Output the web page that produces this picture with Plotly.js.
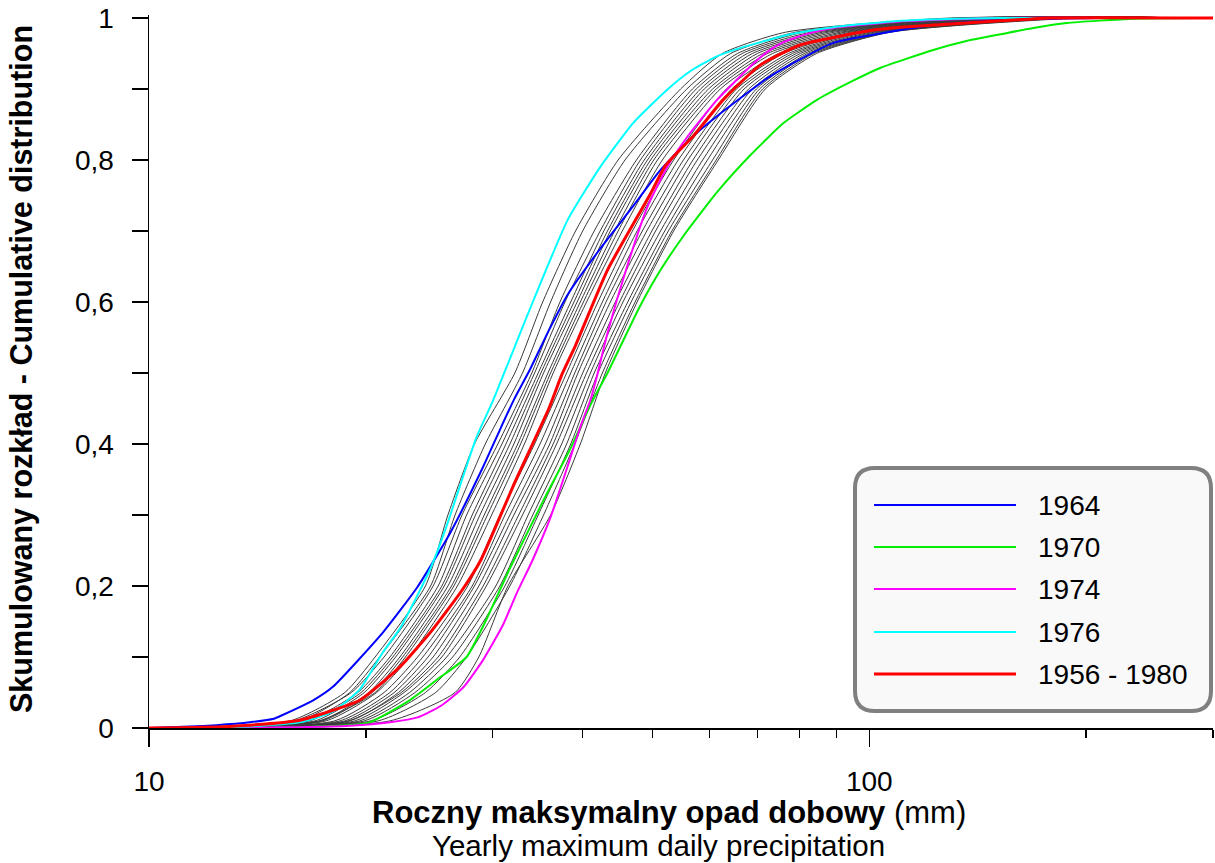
<!DOCTYPE html>
<html><head><meta charset="utf-8">
<script src="https://cdn.plot.ly/plotly-3.0.1.min.js"></script>
<style>html,body{margin:0;padding:0;background:#fff}#chart{width:1215px;height:863px}</style>
</head><body><div id="chart"></div>
<script>
// ---- data (x: precipitation in mm, F: cumulative distribution) ----
const grayF = [0, 0.01, 0.05, 0.1, 0.2, 0.3, 0.4, 0.5, 0.6, 0.7, 0.8, 0.9, 0.95, 0.98, 1, 1];
const gray01 = [10, 15.7, 18.7, 20.6, 24.2, 26.0, 28.3, 32.2, 35.2, 39.1, 44.8, 54.7, 62.5, 76.5, 129.6, 300];
const gray02 = [10, 16.2, 19.0, 20.9, 24.6, 26.6, 29.3, 33.0, 36.1, 40.0, 45.8, 55.8, 64.2, 79.0, 133.8, 300];
const gray03 = [10, 15.9, 19.1, 21.2, 24.8, 27.2, 30.5, 34.0, 37.2, 41.5, 47.5, 56.8, 65.6, 81.0, 136.0, 300];
const gray04 = [10, 16.5, 19.5, 21.6, 25.2, 27.6, 30.9, 34.3, 37.8, 42.3, 48.1, 57.5, 66.6, 82.9, 138.2, 300];
const gray05 = [10, 16.7, 19.7, 21.8, 25.5, 28.1, 31.3, 34.7, 38.5, 42.8, 48.7, 58.3, 67.7, 84.5, 140.4, 300];
const gray06 = [10, 17.0, 19.9, 22.0, 25.7, 28.4, 31.7, 35.0, 38.9, 43.3, 49.2, 59.0, 68.8, 86.1, 142.6, 300];
const gray07 = [10, 17.3, 20.2, 22.3, 26.0, 28.8, 32.1, 35.3, 39.3, 43.7, 49.7, 59.8, 69.9, 87.7, 144.9, 300];
const gray08 = [10, 17.4, 20.4, 22.5, 26.3, 29.2, 32.5, 35.8, 39.7, 44.3, 50.2, 60.6, 71.1, 89.4, 147.2, 300];
const gray09 = [10, 17.2, 20.6, 22.7, 26.5, 29.5, 32.8, 36.1, 40.1, 44.8, 50.8, 61.3, 72.2, 91.2, 149.6, 300];
const gray10 = [10, 17.6, 20.7, 23.0, 26.8, 29.9, 33.2, 36.4, 40.5, 45.4, 51.6, 62.1, 73.4, 92.7, 152.0, 300];
const gray11 = [10, 18.1, 21.2, 23.6, 27.7, 30.7, 34.3, 38.0, 42.0, 46.9, 53.5, 63.3, 74.8, 94.2, 154.4, 300];
const gray12 = [10, 18.4, 21.6, 24.0, 28.1, 31.2, 34.9, 38.5, 42.6, 47.6, 54.3, 64.4, 76.0, 95.7, 156.9, 300];
const gray13 = [10, 18.7, 21.9, 24.4, 28.3, 31.7, 35.5, 39.0, 43.1, 48.4, 55.2, 65.4, 77.2, 97.2, 159.4, 300];
const gray14 = [10, 19.0, 22.2, 24.8, 28.7, 32.1, 36.0, 39.4, 43.7, 49.1, 56.0, 66.2, 78.2, 98.8, 162.0, 300];
const gray15 = [10, 18.9, 22.4, 25.2, 29.1, 32.6, 36.4, 40.0, 44.4, 49.9, 56.9, 67.0, 79.2, 100.4, 167.3, 300];
const gray16 = [10, 19.3, 22.6, 25.5, 29.4, 33.0, 36.8, 40.5, 45.0, 50.5, 57.7, 68.0, 80.2, 101.7, 172.7, 300];
const gray17 = [10, 19.6, 23.0, 25.9, 30.3, 33.6, 37.4, 41.0, 45.5, 51.3, 58.7, 68.8, 81.2, 103.0, 178.4, 300];
const gray18 = [10, 19.9, 23.4, 26.4, 30.7, 34.1, 38.0, 41.5, 46.2, 52.0, 59.6, 69.7, 82.1, 104.4, 181.3, 300];
const gray19 = [10, 20.3, 24.2, 27.0, 31.2, 34.7, 38.5, 42.0, 46.7, 52.6, 60.6, 70.4, 82.9, 105.4, 184.2, 300];
const gray20 = [10, 20.8, 25.0, 27.6, 31.7, 35.3, 39.0, 42.6, 47.3, 53.2, 61.3, 71.1, 83.7, 106.4, 190.2, 300];
const gray21 = [10, 21.6, 26.6, 28.7, 31.5, 36.1, 39.7, 43.0, 47.6, 53.5, 61.7, 71.7, 84.5, 107.0, 196.4, 300];
const grayCurves = [gray01, gray02, gray03, gray04, gray05, gray06, gray07, gray08, gray09, gray10, gray11,
  gray12, gray13, gray14, gray15, gray16, gray17, gray18, gray19, gray20, gray21];

const blueX = [10, 11.4, 12.4, 13.8, 14.9, 15.3, 16.9, 18.0, 21.1, 23.6, 26.2, 29.1, 30.7, 32.2, 33.8, 35.9, 38.1, 42.3, 47.0, 51.2, 56.4, 61.5, 72.1, 77.6, 89.1, 110.4, 122.7, 152, 209.4, 300];
const blueF = [0, 0.002, 0.004, 0.008, 0.013, 0.018, 0.039, 0.058, 0.134, 0.199, 0.275, 0.368, 0.42, 0.465, 0.505, 0.56, 0.61, 0.675, 0.735, 0.785, 0.83, 0.862, 0.915, 0.934, 0.965, 0.983, 0.99, 0.997, 1, 1];
const greenX = [10, 16.2, 20.1, 23.0, 25.1, 27.6, 29.5, 31.7, 35.3, 38.4, 41.0, 43.3, 45.1, 48.1, 51.3, 55.2, 61.5, 68.4, 76.0, 84.7, 94.2, 103.7, 122.7, 136.8, 152, 169, 188, 232.6, 288.2, 300];
const greenF = [0, 0.001, 0.007, 0.039, 0.068, 0.1, 0.156, 0.225, 0.321, 0.392, 0.455, 0.5, 0.537, 0.595, 0.645, 0.693, 0.755, 0.807, 0.852, 0.885, 0.91, 0.93, 0.955, 0.968, 0.977, 0.986, 0.993, 0.999, 1, 1];
const magentaX = [10, 16.2, 19.0, 21.6, 23.6, 25.4, 27.3, 29.1, 31.0, 32.4, 34.1, 36.1, 38.1, 39.7, 41.0, 41.9, 43.3, 46.1, 49.2, 52.6, 56.4, 61.5, 68.4, 72.1, 76.0, 82.9, 89.1, 110.4, 152, 300];
const magentaF = [0, 0.001, 0.003, 0.008, 0.015, 0.031, 0.057, 0.096, 0.145, 0.19, 0.237, 0.297, 0.368, 0.424, 0.462, 0.497, 0.556, 0.65, 0.734, 0.793, 0.838, 0.885, 0.932, 0.952, 0.966, 0.979, 0.986, 0.995, 1, 1];
const cyanX = [10, 13.0, 16.2, 18.0, 19.6, 21.1, 22.3, 23.4, 24.6, 25.8, 27.0, 28.5, 30.0, 31.7, 34.1, 38.1, 42.3, 47.0, 52.4, 56.4, 61.1, 67.3, 77.7, 89.1, 110.4, 152, 300];
const cyanF = [0, 0.001, 0.008, 0.023, 0.054, 0.106, 0.14, 0.18, 0.225, 0.28, 0.34, 0.41, 0.46, 0.52, 0.6, 0.715, 0.79, 0.852, 0.899, 0.925, 0.945, 0.96, 0.977, 0.987, 0.996, 1, 1];
const redX = [10, 11.8, 13.8, 16.2, 19.6, 22.3, 24.6, 27.2, 28.9, 32.2, 35.9, 37.4, 39.1, 43.3, 49.6, 52.2, 57.1, 62.7, 70.6, 80.2, 101.3, 110.4, 152, 178.4, 300];
const redF = [0, 0.001, 0.004, 0.011, 0.039, 0.086, 0.135, 0.194, 0.237, 0.346, 0.45, 0.497, 0.539, 0.645, 0.751, 0.793, 0.835, 0.885, 0.934, 0.962, 0.983, 0.987, 0.996, 1, 1];

const seriesNames = ['1964', '1970', '1974', '1976', '1956 - 1980'];
const seriesX = [blueX, greenX, magentaX, cyanX, redX];
const seriesF = [blueF, greenF, magentaF, cyanF, redF];

const yTickVals = [0, 0.1, 0.2, 0.3, 0.4, 0.5, 0.6, 0.7, 0.8, 0.9, 1];
const yTickText = ['0', '', '0,2', '', '0,4', '', '0,6', '', '0,8', '', '1'];
const xTickVals = [10, 100];
const xTickText = ['10', '100'];
const xMinorVals = [20, 30, 40, 50, 60, 70, 80, 90, 200, 300];

// ---- styles ----
const seriesColors = ['#0000ff', '#00ee00', '#ff00ff', '#00ffff', '#ff0000'];
const seriesWidths = [2, 2, 2, 2, 3];
const FONT = 'Arial, "Liberation Sans", sans-serif';

const traces = [];
grayCurves.forEach(function (xs, i) {
  traces.push({x: xs, y: grayF, type: 'scatter', mode: 'lines', name: 'gray' + (i + 1),
    line: {color: '#3a3a3a', width: 1, shape: 'spline', smoothing: 0.6}, hoverinfo: 'skip'});
});
[0, 1, 2, 3, 4].forEach(function (k) {
  traces.push({x: seriesX[k], y: seriesF[k], type: 'scatter', mode: 'lines', name: seriesNames[k],
    line: {color: seriesColors[k], width: seriesWidths[k], shape: 'spline', smoothing: 0.5}});
});

// plot area geometry: left 149, width 1064, top 15, height 716
const W = 1064, H = 716, L = 149, B = 731;
function px(xp) { return (xp - L) / W; }
function py(yp) { return (B - yp) / H; }

// rounded legend box
const bl = px(855), br = px(1211), bt = py(468), bb = py(711);
const rx = 20 / W, ry = 20 / H;
const boxPath = 'M' + (bl + rx) + ',' + bt + ' L' + (br - rx) + ',' + bt +
  ' Q' + br + ',' + bt + ' ' + br + ',' + (bt - ry) + ' L' + br + ',' + (bb + ry) +
  ' Q' + br + ',' + bb + ' ' + (br - rx) + ',' + bb + ' L' + (bl + rx) + ',' + bb +
  ' Q' + bl + ',' + bb + ' ' + bl + ',' + (bb + ry) + ' L' + bl + ',' + (bt - ry) +
  ' Q' + bl + ',' + bt + ' ' + (bl + rx) + ',' + bt + ' Z';

const shapes = [{type: 'path', xref: 'paper', yref: 'paper', path: boxPath,
  fillcolor: '#f9f9f9', line: {color: '#808080', width: 4}, layer: 'above'}];
const annotations = [];
const rowY = [505, 547, 589, 632, 674];
seriesNames.forEach(function (nm, k) {
  shapes.push({type: 'line', xref: 'paper', yref: 'paper', x0: px(874), x1: px(1016), y0: py(rowY[k]), y1: py(rowY[k]),
    line: {color: seriesColors[k], width: seriesWidths[k]}, layer: 'above'});
  annotations.push({xref: 'paper', yref: 'paper', x: px(1036), y: py(rowY[k]), xanchor: 'left', yanchor: 'middle',
    text: nm, showarrow: false, font: {family: FONT, size: 28, color: '#000'}});
});
annotations.push({xref: 'paper', yref: 'paper', x: px(669), y: py(813), xanchor: 'center', yanchor: 'middle',
  text: '<b>Roczny maksymalny opad dobowy</b> (mm)', showarrow: false, font: {family: FONT, size: 31, color: '#000'}});
annotations.push({xref: 'paper', yref: 'paper', x: px(658), y: py(845), xanchor: 'center', yanchor: 'middle',
  text: 'Yearly maximum daily precipitation', showarrow: false, font: {family: FONT, size: 29.5, color: '#000'}});
annotations.push({xref: 'paper', yref: 'paper', x: px(22), y: py(369), xanchor: 'center', yanchor: 'middle', textangle: -90,
  text: '<b>Skumulowany rozkład - Cumulative distribution</b>', showarrow: false, font: {family: FONT, size: 30.5, color: '#000'}});

const yr0 = -0.004225, yr1 = 1.004225;
const layout = {
  width: 1215, height: 863,
  margin: {l: 149, r: 2, t: 15, b: 132, pad: 0},
  paper_bgcolor: '#ffffff', plot_bgcolor: 'rgba(0,0,0,0)',
  showlegend: false,
  font: {family: FONT, color: '#000', size: 28},
  xaxis: {type: 'log', range: [1, Math.log10(300)], showgrid: false, zeroline: false,
    showline: true, linecolor: '#000', linewidth: 1.5, mirror: false,
    ticks: 'outside', ticklen: 17, tickwidth: 1.5, tickcolor: '#000',
    tickmode: 'array', tickvals: xTickVals, ticktext: xTickText, tickfont: {family: FONT, size: 28, color: '#000'},
    ticklabelstandoff: 11,
    minor: {tickmode: 'array', tickvals: xMinorVals, ticks: 'outside', ticklen: 8, tickwidth: 1.5, tickcolor: '#000', showgrid: false},
    anchor: 'free', position: (0 - yr0) / (yr1 - yr0), fixedrange: true},
  yaxis: {range: [yr0, yr1], showgrid: false, zeroline: false,
    showline: true, linecolor: '#000', linewidth: 1.5,
    ticks: 'outside', ticklen: 16, tickwidth: 1.5, tickcolor: '#000',
    tickmode: 'array', tickvals: yTickVals, ticktext: yTickText, tickfont: {family: FONT, size: 28, color: '#000'},
    ticklabelstandoff: 12, fixedrange: true},
  shapes: shapes,
  annotations: annotations
};

Plotly.newPlot('chart', traces, layout, {displayModeBar: false, staticPlot: true});
</script>
</body></html>
